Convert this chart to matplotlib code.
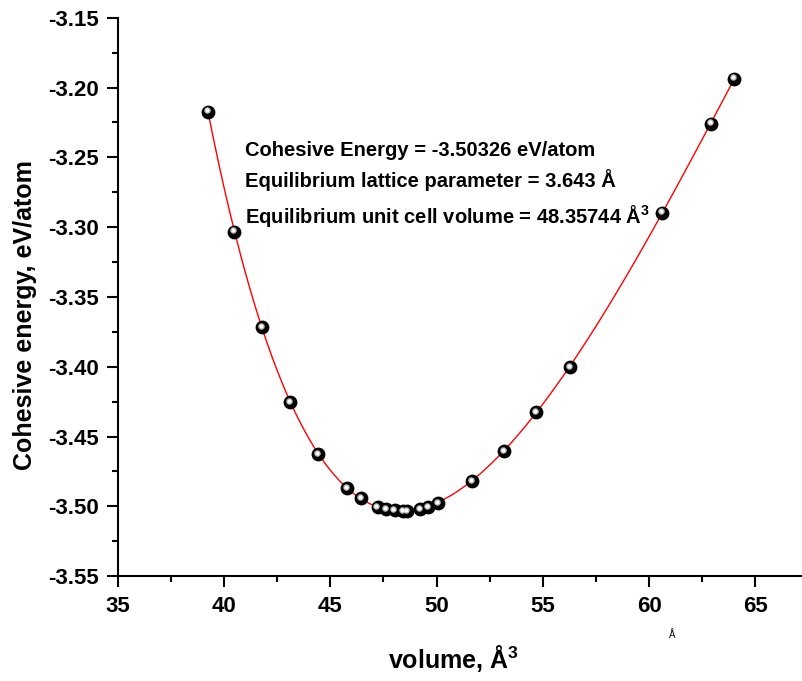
import matplotlib
matplotlib.use('Agg')
import matplotlib.pyplot as plt
import numpy as np
from matplotlib.ticker import MultipleLocator

plt.rcParams['font.family'] = ['Liberation Sans', 'DejaVu Sans']
plt.rcParams['mathtext.fontset'] = 'custom'
plt.rcParams['mathtext.rm'] = 'Liberation Sans:bold'
plt.rcParams['mathtext.bf'] = 'Liberation Sans:bold'
plt.rcParams['mathtext.default'] = 'bf'

# volume (A^3) and cohesive energy (eV/atom)
volume = [39.25, 40.47, 41.79, 43.11, 44.43, 45.80, 46.46, 47.22, 47.64, 48.02,
          48.44, 48.63, 49.20, 49.58, 50.05, 51.65, 53.16, 54.67, 56.27, 60.61,
          62.92, 64.00]
energy = [-3.2174, -3.3034, -3.3715, -3.4253, -3.4625, -3.4869, -3.4941, -3.5005,
          -3.5020, -3.5027, -3.5034, -3.5034, -3.5020, -3.5005, -3.4977, -3.4819,
          -3.4604, -3.4324, -3.4002, -3.2898, -3.2260, -3.1937]

notes = ['Cohesive Energy = -3.50326 eV/atom',
         'Equilibrium lattice parameter = 3.643 Å',
         'Equilibrium unit cell volume = 48.35744 Å$^{3}$']

fig = plt.figure(figsize=(8.02, 6.81), dpi=100)
ax = fig.add_axes([0.147, 0.154, 0.853, 0.82])

# smooth fit through the points
coef = np.polyfit(volume, energy, 5)
vv = np.linspace(min(volume), max(volume), 400)
ax.plot(vv, np.polyval(coef, vv), color='red', lw=1, zorder=2)

# shaded balls
ax.scatter(volume, energy, s=80, color='black', zorder=3)
ax.scatter(np.array(volume) - 0.05, np.array(energy) + 0.001, s=14,
           color='#aaaaaa', zorder=4)
ax.scatter(np.array(volume) - 0.05, np.array(energy) + 0.001, s=4,
           color='white', zorder=5)

ax.set_xlim(35, 67.2)
ax.set_ylim(-3.55, -3.15)
ax.xaxis.set_major_locator(MultipleLocator(5))
ax.xaxis.set_minor_locator(MultipleLocator(2.5))
ax.yaxis.set_major_locator(MultipleLocator(0.05))
ax.yaxis.set_minor_locator(MultipleLocator(0.025))
ax.yaxis.set_major_formatter(matplotlib.ticker.FormatStrFormatter('%.2f'))

for s in ['top', 'right']:
    ax.spines[s].set_visible(False)
for s in ['left', 'bottom']:
    ax.spines[s].set_linewidth(1.5)
ax.tick_params(which='major', direction='out', length=8, width=1.5,
               labelsize=16, pad=6)
ax.tick_params(which='minor', direction='out', length=4, width=1.5)
for lab in ax.get_xticklabels() + ax.get_yticklabels():
    lab.set_fontweight('bold')

ax.set_xlabel('volume, Å$^{3}$', fontsize=18, fontweight='bold')
ax.set_ylabel('Cohesive energy, eV/atom', fontsize=18, fontweight='bold')
ax.xaxis.set_label_coords(0.49, -0.12)
ax.yaxis.set_label_coords(-0.118, 0.468)

ys = [0.763, 0.71, 0.645]
for t, y in zip(notes, ys):
    ax.text(0.186, y, t, transform=ax.transAxes, fontsize=14.5,
            fontweight='bold', va='center')

fig.text(0.838, 0.068, 'Å', fontsize=7, ha='center', va='center')

fig.savefig('out.png', dpi=100)
